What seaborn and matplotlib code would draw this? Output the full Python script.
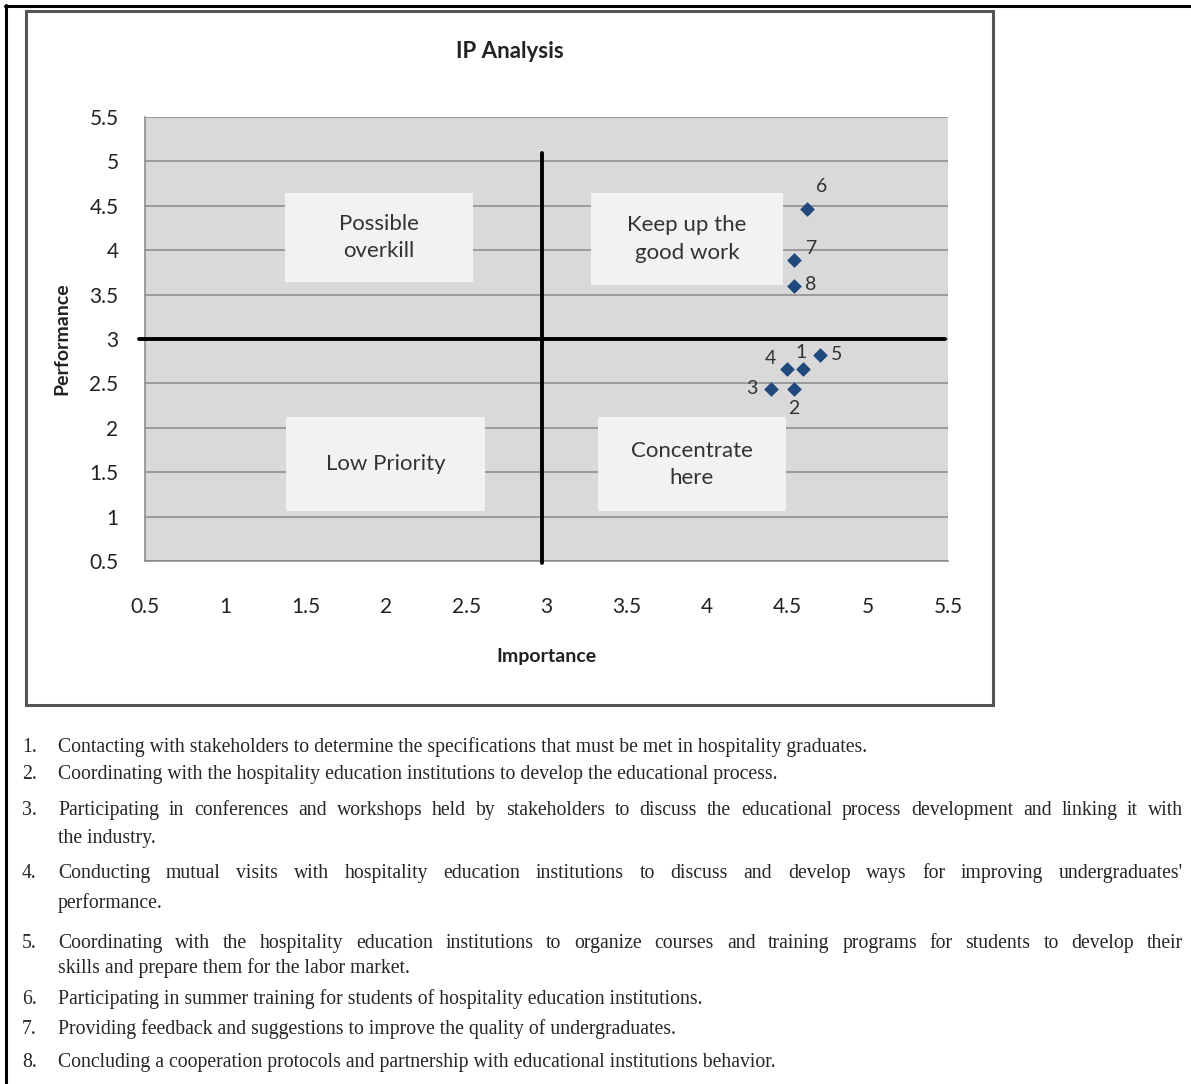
import matplotlib
matplotlib.use("Agg")
import matplotlib.pyplot as plt
from matplotlib.lines import Line2D
from matplotlib.patches import Rectangle
import pandas as pd
import seaborn as sns

# IP analysis values
statement_ids = [1, 2, 3, 4, 5, 6, 7, 8]
importance = [4.60, 4.54, 4.40, 4.50, 4.70, 4.62, 4.54, 4.54]
performance = [2.66, 2.44, 2.44, 2.66, 2.82, 4.46, 3.89, 3.60]

# quadrant dividers
importance_cut = 2.97
performance_cut = 3.0

axis_ticks = [0.5, 1, 1.5, 2, 2.5, 3, 3.5, 4, 4.5, 5, 5.5]
tick_labels = ["0.5", "1", "1.5", "2", "2.5", "3", "3.5", "4", "4.5", "5", "5.5"]

quadrant_names = ["Possible\noverkill", "Keep up the\ngood work", "Low Priority", "Concentrate\nhere"]

statement_lines = [
    ["Contacting with stakeholders to determine the specifications that must be met in hospitality graduates."],
    ["Coordinating with the hospitality education institutions to develop the educational process."],
    ["Participating in conferences and workshops held by stakeholders to discuss the educational process development and linking it with",
     "the industry."],
    ["Conducting mutual visits with hospitality education institutions to discuss and develop ways for improving undergraduates'",
     "performance."],
    ["Coordinating with the hospitality education institutions to organize courses and training programs for students to develop their",
     "skills and prepare them for the labor market."],
    ["Participating in summer training for students of hospitality education institutions."],
    ["Providing feedback and suggestions to improve the quality of undergraduates."],
    ["Concluding a cooperation protocols and partnership with educational institutions behavior."],
]

# layout (pixels / data units)
W, H = 1191, 1084
quad_boxes = [(1.37, 3.64, 2.54, 4.64), (3.28, 3.61, 4.47, 4.64),
              (1.38, 1.06, 2.62, 2.12), (3.32, 1.06, 4.49, 2.12)]
label_offsets = {1: (-2, 17), 2: (0, -20), 3: (-20, 0), 4: (-17, 11),
                 5: (17, 0), 6: (15, 23), 7: (18, 11), 8: (17, 1)}
line_y = [[752], [779], [815, 843], [878, 908], [948, 973], [1004], [1034], [1067]]  # baselines

sns.set_style("white")
plt.rcParams["font.family"] = ["Lato", "DejaVu Sans"]


def fx(px):
    return px / W


def fy(py):
    return 1 - py / H


df = pd.DataFrame({"id": statement_ids, "Importance": importance, "Performance": performance})

fig = plt.figure(figsize=(W / 100, H / 100), dpi=100)

# outer frame and chart area border
fig.add_artist(Line2D([fx(5), fx(1191)], [fy(6), fy(6)], color="black", lw=2.2))
fig.add_artist(Line2D([fx(6), fx(6)], [fy(5), fy(1084)], color="black", lw=2.2))
fig.add_artist(Rectangle((fx(26), fy(705)), fx(993) - fx(26), fy(11) - fy(705),
                         fill=False, edgecolor="#555555", lw=2.2))

ax = fig.add_axes([fx(145), fy(561), (948 - 145) / W, (561 - 117) / H])
ax.set_facecolor("#d9d9d9")
ax.set_xlim(0.5, 5.5)
ax.set_ylim(0.5, 5.5)
ax.set_xticks(axis_ticks, tick_labels)
ax.set_yticks(axis_ticks, tick_labels)
ax.grid(axis="y", color="#8a8a8a", lw=1.1)
ax.set_axisbelow(True)
for s in ["top", "right"]:
    ax.spines[s].set_visible(False)
for s in ["left", "bottom"]:
    ax.spines[s].set_color("#868686")
    ax.spines[s].set_linewidth(1.1)
ax.tick_params(axis="x", length=6, color="#868686", pad=20, labelsize=15, labelcolor="#222222")
ax.tick_params(axis="y", length=6, color="#868686", pad=13, labelsize=15, labelcolor="#222222")

# quadrant boxes
for (x0, y0, x1, y1), name in zip(quad_boxes, quadrant_names):
    ax.add_patch(Rectangle((x0, y0), x1 - x0, y1 - y0, facecolor="#f2f2f2", edgecolor="none", zorder=2))
    ax.text((x0 + x1) / 2, (y0 + y1) / 2, name, ha="center", va="center", fontsize=16,
            color="#333333", linespacing=1.45, zorder=3)

# quadrant dividers
ax.plot([importance_cut, importance_cut], [0.48, 5.1], color="black", lw=2.8, clip_on=False, zorder=4)
ax.plot([0.46, 5.48], [performance_cut, performance_cut], color="black", lw=2.8, clip_on=False, zorder=4)

sns.scatterplot(data=df, x="Importance", y="Performance", marker="D", s=48,
                color="#1f497d", edgecolor="#1f497d", ax=ax, zorder=5, legend=False)
for i, xv, yv in zip(statement_ids, importance, performance):
    dx, dy = label_offsets[i]
    ax.annotate(str(i), (xv, yv), xytext=(dx, dy), textcoords="offset pixels",
                ha="center", va="center", fontsize=14, color="#333333", zorder=6)

ax.set_xlabel("Importance", fontsize=14, fontweight="bold", color="#222222")
ax.set_ylabel("Performance", fontsize=14, fontweight="bold", color="#222222")
ax.xaxis.set_label_coords(0.5, -0.195)
ax.yaxis.set_label_coords(-0.093, 0.5)

fig.text(fx(510), fy(52), "IP Analysis", ha="center", va="center", fontsize=16,
         fontweight="bold", color="#222222")

# numbered statement list (justified like the source document)
fig.canvas.draw()
rend = fig.canvas.get_renderer()
serif = "Liberation Serif"
fs = 14.2
x_num, x_text, x_right = 22, 58, 1183
for n, (lines, ys) in enumerate(zip(statement_lines, line_y), start=1):
    fig.text(fx(x_num), fy(ys[0]), f"{n}.", family=serif, fontsize=fs, va="baseline")
    for k, (txt, yy) in enumerate(zip(lines, ys)):
        justify = k < len(lines) - 1
        if not justify:
            fig.text(fx(x_text), fy(yy), txt, family=serif, fontsize=fs, va="baseline")
            continue
        words = txt.split()
        arts = [fig.text(0, fy(yy), w, family=serif, fontsize=fs, va="baseline") for w in words]
        widths = [a.get_window_extent(rend).width for a in arts]
        gap = (x_right - x_text - sum(widths)) / (len(words) - 1)
        xpos = x_text
        for a, wd in zip(arts, widths):
            a.set_x(fx(xpos))
            xpos += wd + gap

fig.savefig("out.png", dpi=100, facecolor="white")
